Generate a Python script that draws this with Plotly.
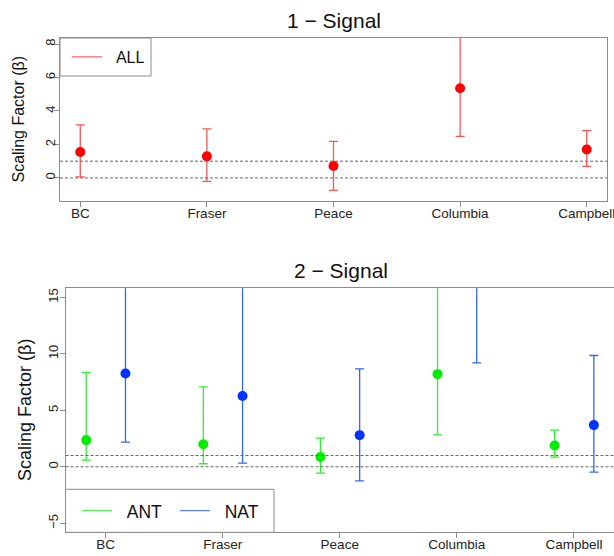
import plotly.graph_objects as go

basins = ["BC", "Fraser", "Peace", "Columbia", "Campbell"]
basin_pos = [1, 2, 3, 4, 5]

# Panel 1: ALL signal (best estimate, lower, upper)
all_best = [1.55, 1.29, 0.71, 5.36, 1.70]
all_low = [0.06, -0.20, -0.74, 2.48, 0.69]
all_high = [3.17, 2.93, 2.18, 10.5, 2.83]

# Panel 2: ANT and NAT signals
ant_best = [2.36, 2.00, 0.86, 8.20, 1.89]
ant_low = [0.59, 0.27, -0.56, 2.83, 0.86]
ant_high = [8.35, 7.08, 2.54, 18.0, 3.25]

nat_best = [8.26, 6.26, 2.80, 19.0, 3.69]
nat_low = [2.19, 0.32, -1.24, 9.20, -0.47]
nat_high = [18.5, 17.5, 8.67, 30.0, 9.85]

ant_shift = -0.165
nat_shift = 0.17

RED = "#FF0000"
RED_BAR = "rgba(255,40,40,0.8)"
GREEN = "#00EE00"
GREEN_BAR = "#33EE33"
BLUE = "#0033FF"
BLUE_BAR = "#3366EE"
GRAY = "#8c8c8c"
FONT = "Liberation Sans, Arial, sans-serif"
NB = "\u00a0"


def err(best, lo, hi):
    return dict(type="data", symmetric=False,
                array=[h - b for b, h in zip(best, hi)],
                arrayminus=[b - l for b, l in zip(best, lo)])


fig = go.Figure()

e = err(all_best, all_low, all_high)
e.update(color=RED_BAR, thickness=1.3, width=4.5)
fig.add_trace(go.Scatter(x=basin_pos, y=all_best, mode="markers",
                         marker=dict(color=RED, size=10), error_y=e,
                         xaxis="x", yaxis="y", showlegend=False))
fig.add_trace(go.Scatter(x=[None], y=[None], mode="lines", name=NB * 2 + "ALL",
                         line=dict(color="#FF4040", width=1),
                         xaxis="x", yaxis="y", legend="legend"))

e = err(ant_best, ant_low, ant_high)
e.update(color=GREEN_BAR, thickness=1.3, width=4.5)
fig.add_trace(go.Scatter(x=[p + ant_shift for p in basin_pos], y=ant_best, mode="markers",
                         marker=dict(color=GREEN, size=10), error_y=e,
                         xaxis="x2", yaxis="y2", showlegend=False))
e = err(nat_best, nat_low, nat_high)
e.update(color=BLUE_BAR, thickness=1.3, width=4.5)
fig.add_trace(go.Scatter(x=[p + nat_shift for p in basin_pos], y=nat_best, mode="markers",
                         marker=dict(color=BLUE, size=10), error_y=e,
                         xaxis="x2", yaxis="y2", showlegend=False))
fig.add_trace(go.Scatter(x=[None], y=[None], mode="lines", name=NB * 2 + "ANT",
                         line=dict(color="#33EE33", width=1),
                         xaxis="x2", yaxis="y2", legend="legend2"))
fig.add_trace(go.Scatter(x=[None], y=[None], mode="lines", name=NB * 2 + "NAT",
                         line=dict(color="#3366EE", width=1),
                         xaxis="x2", yaxis="y2", legend="legend2"))

W, H = 614, 556
axis_common = dict(showline=True, linecolor=GRAY, linewidth=1, mirror=True,
                   ticks="outside", tickcolor=GRAY, ticklen=5, tickwidth=1,
                   showgrid=False, zeroline=False, automargin=False,
                   ticklabeloverflow="allow")
xfont = dict(family=FONT, size=13.5, color="#222")
yfont = dict(family=FONT, size=13, color="#222")

fig.update_layout(
    width=W, height=H, margin=dict(l=0, r=0, t=0, b=0),
    paper_bgcolor="white", plot_bgcolor="white",
    xaxis=dict(domain=[60 / W, 607 / W], range=[0.84, 5.16], tickfont=xfont,
               tickvals=basin_pos, ticktext=basins, anchor="y",
               ticklabelstandoff=-5, **axis_common),
    yaxis=dict(domain=[1 - 200.7 / H, 1 - 38 / H], range=[-1.36, 8.36], tickfont=yfont,
               tickvals=[0, 2, 4, 6, 8], tickangle=-90, anchor="x",
               ticklabelstandoff=-6, **axis_common),
    xaxis2=dict(domain=[65.5 / W, 1.0], range=[0.658, 5.342], tickfont=xfont,
                tickvals=basin_pos, ticktext=basins, anchor="y2",
                ticklabelstandoff=-6, **axis_common),
    yaxis2=dict(domain=[1 - 532.3 / H, 1 - 288.3 / H], range=[-5.8, 15.8], tickfont=yfont,
                tickvals=[-5, 0, 5, 10, 15], tickangle=-90, anchor="x2",
                ticklabelstandoff=-4, **axis_common),
    legend=dict(x=67 / W, y=1 - 57 / H, xanchor="left", yanchor="middle",
                borderwidth=0, bgcolor="rgba(0,0,0,0)",
                font=dict(family=FONT, size=16, color="#111")),
    legend2=dict(x=77 / W, y=1 - 510.8 / H, xanchor="left", yanchor="middle",
                 orientation="h", borderwidth=0, bgcolor="rgba(0,0,0,0)",
                 entrywidth=53,
                 font=dict(family=FONT, size=17.5, color="#111")),
    showlegend=True,
)

# legend frames
fig.add_shape(type="rect", xref="paper", yref="paper", x0=60 / W, x1=151 / W,
              y0=1 - 76 / H, y1=1 - 38 / H, line=dict(color=GRAY, width=1),
              fillcolor="white", layer="above")
fig.add_shape(type="rect", xref="paper", yref="paper", x0=65.5 / W, x1=274 / W,
              y0=1 - 532.3 / H, y1=1 - 489.3 / H, line=dict(color=GRAY, width=1),
              fillcolor="white", layer="above")

# reference lines at 0 and 1
for ax in ["", "2"]:
    for v in [0, 1]:
        fig.add_shape(type="line", xref=f"x{ax} domain", yref=f"y{ax}",
                      x0=0, x1=1, y0=v, y1=v,
                      line=dict(color="#666", width=1, dash="3px,2px"))

# titles
fig.add_annotation(text="1 \u2212 Signal", x=333.5 / W, y=1 - 20.7 / H, xref="paper", yref="paper",
                   xanchor="center", yanchor="middle",
                   showarrow=False, font=dict(family=FONT, size=21, color="#111"))
fig.add_annotation(text="2 \u2212 Signal", x=340.7 / W, y=1 - 270.7 / H, xref="paper", yref="paper",
                   xanchor="center", yanchor="middle",
                   showarrow=False, font=dict(family=FONT, size=21, color="#111"))
fig.add_annotation(text="Scaling Factor (\u03b2)", x=18 / W, y=1 - 119.5 / H, xref="paper", yref="paper",
                   xanchor="center", yanchor="middle",
                   textangle=-90, showarrow=False, font=dict(family=FONT, size=16, color="#111"))
fig.add_annotation(text="Scaling Factor (\u03b2)", x=25 / W, y=1 - 410 / H, xref="paper", yref="paper",
                   xanchor="center", yanchor="middle",
                   textangle=-90, showarrow=False, font=dict(family=FONT, size=18, color="#111"))

fig.write_html("out.html", config={"displayModeBar": False},
               post_script="document.body.style.margin='0px';")
